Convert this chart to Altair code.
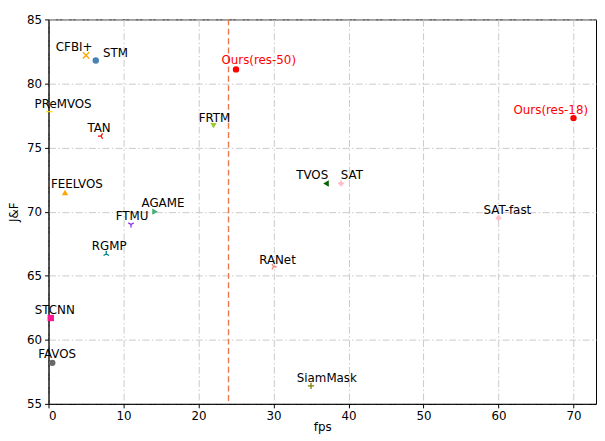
import altair as alt
import pandas as pd

# ---- data ----
names = ["CFBI+", "STM", "PReMVOS", "TAN", "FEELVOS", "AGAME", "FTMU", "RGMP",
         "STCNN", "FAVOS", "Ours(res-50)", "FRTM", "TVOS", "SAT", "RANet",
         "SiamMask", "Ours(res-18)", "SAT-fast"]
fps = [5.0, 6.3, 0.1, 7.0, 2.2, 14.2, 11.0, 7.7,
       0.3, 0.5, 25.0, 22.0, 37.0, 39.0, 30.0,
       35.0, 70.0, 60.0]
jf = [82.2, 81.8, 77.8, 75.9, 71.5, 70.0, 69.0, 66.7,
      61.7, 58.2, 81.1, 76.7, 72.2, 72.2, 65.7,
      56.4, 77.3, 69.5]
x_ticks = [0, 10, 20, 30, 40, 50, 60, 70]
y_ticks = [55, 60, 65, 70, 75, 80, 85]
realtime_fps = [24]

# ---- styles ----
colors = ["orange", "steelblue", "#f5e10a", "red", "orange", "mediumseagreen",
          "blueviolet", "teal", "deeppink", "dimgray", "red", "yellowgreen",
          "darkgreen", "pink", "salmon", "olive", "red", "pink"]
P_X = "M-1,-1L1,1M-1,1L1,-1"
P_PLUS = "M-1,0L1,0M0,-1L0,1"
P_TRI_LEFT = "M0,0L-1,0M0,0L0.5,-0.866M0,0L0.5,0.866"
P_TRI_RIGHT = "M0,0L1,0M0,0L-0.5,-0.866M0,0L-0.5,0.866"
P_TRI_UP = "M0,0L0,-1M0,0L-0.866,0.5M0,0L0.866,0.5"
P_TRI_DOWN = "M0,0L0,1M0,0L-0.866,-0.5M0,0L0.866,-0.5"
P_DASH = "M-1,0L1,0"
shapes = [P_X, "circle", P_DASH, P_TRI_LEFT, "triangle-up", "triangle-right",
          P_TRI_DOWN, P_TRI_UP, "square", "circle", "circle", "triangle-down",
          "triangle-left", "diamond", P_TRI_RIGHT, P_PLUS, "circle", "diamond"]
line_marker = [True, False, True, True, False, False, True, True, False, False,
               False, False, False, False, True, True, False, False]
label_dx = [-12, 20, 14, -2, 12, 8, 1, 3, 4, 5, 23, 1, -14, 11, 4, 16, -23, 9]
label_dy = [-8, -7, -8, -8, -8, -9, -9, -8, -8, -9, -9, -8, -9, -9, -7, -8, -8, -8]
label_colors = ["red" if n.startswith("Ours") else "black" for n in names]

df = pd.DataFrame({"name": names, "fps": fps, "jf": jf, "line": line_marker})

FONT = "DejaVu Sans"
xscale = alt.Scale(domain=[0, 73], nice=False, zero=False)
yscale = alt.Scale(domain=[55, 85], nice=False, zero=False)
color_scale = alt.Scale(domain=names, range=colors)
shape_scale = alt.Scale(domain=names, range=shapes)

x_enc = alt.X("fps:Q", scale=xscale,
              axis=alt.Axis(values=x_ticks, title="fps", format="d"))
y_enc = alt.Y("jf:Q", scale=yscale,
              axis=alt.Axis(values=y_ticks, title="J&F", format="d"))

base = alt.Chart(df)

filled = base.transform_filter("!datum.line").mark_point(
    filled=True, size=42, opacity=1
).encode(
    x=x_enc, y=y_enc,
    color=alt.Color("name:N", scale=color_scale, legend=None),
    shape=alt.Shape("name:N", scale=shape_scale, legend=None),
)

stroked = base.transform_filter("datum.line").mark_point(
    filled=False, size=40, strokeWidth=1.3, opacity=1
).encode(
    x="fps:Q", y="jf:Q",
    color=alt.Color("name:N", scale=color_scale, legend=None),
    shape=alt.Shape("name:N", scale=shape_scale, legend=None),
)

vline = alt.Chart(pd.DataFrame({"fps": realtime_fps})).mark_rule(
    color="#e8784e", strokeDash=[6, 3.5], strokeWidth=1.4
).encode(x="fps:Q")

layers = [vline, filled, stroked]
for i, n in enumerate(names):
    t = alt.Chart(df.iloc[[i]]).mark_text(
        font=FONT, fontSize=12, align="center", baseline="middle",
        dx=label_dx[i], dy=label_dy[i], color=label_colors[i]
    ).encode(x="fps:Q", y="jf:Q", text="name:N")
    layers.append(t)

chart = alt.layer(*layers).properties(
    width=554, height=389,
    autosize=alt.AutoSizeParams(type="none"),
    padding={"left": 41, "top": 9, "right": 1, "bottom": 35},
).configure_view(
    stroke="black", strokeWidth=1
).configure_axis(
    domainColor="black", domainWidth=1,
    tickColor="black", tickSize=4, tickWidth=1,
    labelFont=FONT, labelFontSize=12, labelColor="black", labelPadding=3,
    titleFont=FONT, titleFontSize=12, titleFontWeight="normal", titleColor="black",
    grid=True, gridColor="#c9c9c9", gridDash=[7, 2.5, 1.5, 2.5], gridWidth=1,
).configure_axisX(
    titlePadding=0
).configure_axisY(
    titlePadding=6
)

chart.save("out.html", embed_options={"renderer": "svg", "actions": False})
